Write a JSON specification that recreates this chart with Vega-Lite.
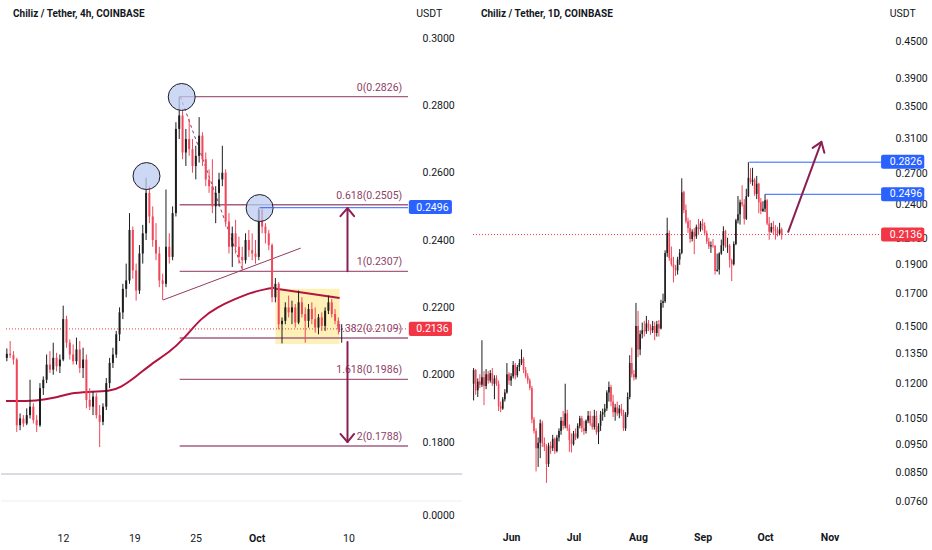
{
  "$schema": "https://vega.github.io/schema/vega-lite/v6.json",
  "padding": 0,
  "background": "#ffffff",
  "spacing": 4,
  "hconcat": [
    {
      "spacing": 0,
      "vconcat": [
        {
          "width": 412,
          "height": 473,
          "layer": [
            {
              "data": {"values": [{"t": "2022-10-03 00", "t2": "2022-10-09 11", "p": 0.2255, "p2": 0.2091}], "format": {"parse": {"t": "date:'%Y-%m-%d %H'", "t2": "date:'%Y-%m-%d %H'"}}},
              "mark": {"type": "rect", "color": "#fdf1b8"},
              "encoding": {
                "x": {"field": "t", "type": "temporal", "scale": {"domain": [{"year": 2022, "month": 9, "date": 5, "hours": 22}, {"year": 2022, "month": 10, "date": 16, "hours": 8}]}, "axis": null},
                "x2": {"field": "t2"},
                "y": {"field": "p", "type": "quantitative", "title": null, "scale": {"domain": [0.1708, 0.3113], "zero": false, "nice": false},
                  "axis": {"orient": "right", "values": [0.18, 0.19, 0.2, 0.21, 0.22, 0.23, 0.24, 0.25, 0.26, 0.27, 0.28, 0.29, 0.3], "format": ".4f", "labelAlign": "left", "labelPadding": 9, "minExtent": 50, "maxExtent": 50, "labelOverlap": false, "title": null}},
                "y2": {"field": "p2"}
              }
            },
            {
              "data": {"values": [{"t": "2022-09-05 22", "t2": "2022-10-16 08", "p": 0.2136}], "format": {"parse": {"t": "date:'%Y-%m-%d %H'", "t2": "date:'%Y-%m-%d %H'"}}},
              "mark": {"type": "rule", "color": "#f23645", "strokeDash": [1, 2], "strokeWidth": 1},
              "encoding": {
                "x": {"field": "t", "type": "temporal", "axis": null},
                "x2": {"field": "t2"},
                "y": {"field": "p", "type": "quantitative", "title": null}
              }
            },
            {
              "data": {"values": [
                {"t": "2022-09-23 09", "t2": "2022-10-16 08", "tl": "2022-10-15 18", "p": 0.2826, "lab": "0(0.2826)"},
                {"t": "2022-09-23 09", "t2": "2022-10-16 08", "tl": "2022-10-15 18", "p": 0.2505, "lab": "0.618(0.2505)"},
                {"t": "2022-09-23 09", "t2": "2022-10-16 08", "tl": "2022-10-15 18", "p": 0.2307, "lab": "1(0.2307)"},
                {"t": "2022-09-23 09", "t2": "2022-10-16 08", "tl": "2022-10-15 18", "p": 0.2109, "lab": "1.382(0.2109)"},
                {"t": "2022-09-23 09", "t2": "2022-10-16 08", "tl": "2022-10-15 18", "p": 0.1986, "lab": "1.618(0.1986)"},
                {"t": "2022-09-23 09", "t2": "2022-10-16 08", "tl": "2022-10-15 18", "p": 0.1788, "lab": "2(0.1788)"}
              ], "format": {"parse": {"t": "date:'%Y-%m-%d %H'", "t2": "date:'%Y-%m-%d %H'", "tl": "date:'%Y-%m-%d %H'"}}},
              "layer": [
                {
                  "mark": {"type": "rule", "color": "#a65f80", "strokeWidth": 1.4},
                  "encoding": {
                    "x": {"field": "t", "type": "temporal", "axis": null},
                    "x2": {"field": "t2"},
                    "y": {"field": "p", "type": "quantitative", "title": null}
                  }
                },
                {
                  "mark": {"type": "text", "align": "right", "baseline": "middle", "dy": -9, "color": "#8c3f66", "fontSize": 10.5},
                  "encoding": {
                    "x": {"field": "tl", "type": "temporal", "axis": null},
                    "y": {"field": "p", "type": "quantitative", "title": null},
                    "text": {"field": "lab"}
                  }
                }
              ]
            },
            {
              "data": {"values": [
                {"t": "2022-09-05 22", "p": 0.1922}, {"t": "2022-09-09 04", "p": 0.1922}, {"t": "2022-09-10 20", "p": 0.1931},
                {"t": "2022-09-12 12", "p": 0.1946}, {"t": "2022-09-14 01", "p": 0.1949}, {"t": "2022-09-16 10", "p": 0.1951},
                {"t": "2022-09-17 09", "p": 0.1961}, {"t": "2022-09-18 23", "p": 0.1993}, {"t": "2022-09-20 15", "p": 0.2035},
                {"t": "2022-09-22 07", "p": 0.2065}, {"t": "2022-09-23 21", "p": 0.2109}, {"t": "2022-09-25 13", "p": 0.2169},
                {"t": "2022-09-27 05", "p": 0.2201}, {"t": "2022-09-28 18", "p": 0.2222}, {"t": "2022-09-30 10", "p": 0.2243},
                {"t": "2022-10-02 02", "p": 0.2255}, {"t": "2022-10-02 21", "p": 0.2258}
              ], "format": {"parse": {"t": "date:'%Y-%m-%d %H'"}}},
              "mark": {"type": "line", "color": "#b3143f", "strokeWidth": 2, "interpolate": "basis"},
              "encoding": {
                "x": {"field": "t", "type": "temporal", "axis": null},
                "y": {"field": "p", "type": "quantitative", "title": null}
              }
            },
            {
              "data": {"values": [{"t": "2022-10-03 02", "p": 0.2255}, {"t": "2022-10-09 11", "p": 0.2228}], "format": {"parse": {"t": "date:'%Y-%m-%d %H'"}}},
              "mark": {"type": "line", "color": "#b3143f", "strokeWidth": 2},
              "encoding": {
                "x": {"field": "t", "type": "temporal", "axis": null},
                "y": {"field": "p", "type": "quantitative", "title": null}
              }
            },
            {
              "data": {"values": [{"t": "2022-09-21 17", "p": 0.2222}, {"t": "2022-10-05 13", "p": 0.2376}], "format": {"parse": {"t": "date:'%Y-%m-%d %H'"}}},
              "mark": {"type": "line", "color": "#8e3d63", "strokeWidth": 1},
              "encoding": {
                "x": {"field": "t", "type": "temporal", "axis": null},
                "y": {"field": "p", "type": "quantitative", "title": null}
              }
            },
            {
              "data": {"values": [{"t": "2022-09-23 11", "p": 0.2826}, {"t": "2022-09-29 18", "p": 0.2307}], "format": {"parse": {"t": "date:'%Y-%m-%d %H'"}}},
              "mark": {"type": "line", "color": "#8e3d63", "strokeWidth": 1, "strokeDash": [3, 3]},
              "encoding": {
                "x": {"field": "t", "type": "temporal", "axis": null},
                "y": {"field": "p", "type": "quantitative", "title": null}
              }
            },
            {
              "data": {"values": [
                {"t": "2022-09-06 00", "o": 0.2050, "h": 0.2078, "l": 0.2040, "c": 0.2062},
                {"t": "2022-09-06 08", "o": 0.2062, "h": 0.2100, "l": 0.2050, "c": 0.2058},
                {"t": "2022-09-06 16", "o": 0.2058, "h": 0.2070, "l": 0.2030, "c": 0.2045},
                {"t": "2022-09-07 00", "o": 0.2045, "h": 0.2050, "l": 0.1830, "c": 0.1850},
                {"t": "2022-09-07 08", "o": 0.1850, "h": 0.1885, "l": 0.1835, "c": 0.1870},
                {"t": "2022-09-07 16", "o": 0.1870, "h": 0.1880, "l": 0.1845, "c": 0.1855},
                {"t": "2022-09-08 00", "o": 0.1855, "h": 0.1900, "l": 0.1850, "c": 0.1880},
                {"t": "2022-09-08 08", "o": 0.1880, "h": 0.1985, "l": 0.1870, "c": 0.1905},
                {"t": "2022-09-08 16", "o": 0.1905, "h": 0.1915, "l": 0.1855, "c": 0.1865},
                {"t": "2022-09-09 00", "o": 0.1865, "h": 0.1880, "l": 0.1830, "c": 0.1850},
                {"t": "2022-09-09 08", "o": 0.1850, "h": 0.1975, "l": 0.1845, "c": 0.1960},
                {"t": "2022-09-09 16", "o": 0.1960, "h": 0.1995, "l": 0.1940, "c": 0.1985},
                {"t": "2022-09-10 00", "o": 0.1985, "h": 0.2060, "l": 0.1975, "c": 0.2030},
                {"t": "2022-09-10 08", "o": 0.2030, "h": 0.2070, "l": 0.2005, "c": 0.2015},
                {"t": "2022-09-10 16", "o": 0.2015, "h": 0.2095, "l": 0.2000, "c": 0.2050},
                {"t": "2022-09-11 00", "o": 0.2050, "h": 0.2065, "l": 0.2010, "c": 0.2025},
                {"t": "2022-09-11 08", "o": 0.2025, "h": 0.2060, "l": 0.2005, "c": 0.2045},
                {"t": "2022-09-11 16", "o": 0.2045, "h": 0.2205, "l": 0.2040, "c": 0.2165},
                {"t": "2022-09-12 00", "o": 0.2165, "h": 0.2175, "l": 0.2080, "c": 0.2095},
                {"t": "2022-09-12 08", "o": 0.2095, "h": 0.2105, "l": 0.2045, "c": 0.2060},
                {"t": "2022-09-12 16", "o": 0.2060, "h": 0.2090, "l": 0.2030, "c": 0.2040},
                {"t": "2022-09-13 00", "o": 0.2040, "h": 0.2110, "l": 0.2030, "c": 0.2075},
                {"t": "2022-09-13 08", "o": 0.2075, "h": 0.2100, "l": 0.2005, "c": 0.2020},
                {"t": "2022-09-13 16", "o": 0.2020, "h": 0.2080, "l": 0.1990, "c": 0.2045},
                {"t": "2022-09-14 00", "o": 0.2045, "h": 0.2060, "l": 0.1900, "c": 0.1925},
                {"t": "2022-09-14 08", "o": 0.1925, "h": 0.1960, "l": 0.1895, "c": 0.1905},
                {"t": "2022-09-14 16", "o": 0.1905, "h": 0.1950, "l": 0.1880, "c": 0.1935},
                {"t": "2022-09-15 00", "o": 0.1935, "h": 0.1945, "l": 0.1870, "c": 0.1880},
                {"t": "2022-09-15 08", "o": 0.1880, "h": 0.1910, "l": 0.1785, "c": 0.1860},
                {"t": "2022-09-15 16", "o": 0.1860, "h": 0.1915, "l": 0.1850, "c": 0.1905},
                {"t": "2022-09-16 00", "o": 0.1905, "h": 0.1990, "l": 0.1895, "c": 0.1975},
                {"t": "2022-09-16 08", "o": 0.1975, "h": 0.2050, "l": 0.1960, "c": 0.2035},
                {"t": "2022-09-16 16", "o": 0.2035, "h": 0.2080, "l": 0.2020, "c": 0.2060},
                {"t": "2022-09-17 00", "o": 0.2060, "h": 0.2130, "l": 0.2050, "c": 0.2120},
                {"t": "2022-09-17 08", "o": 0.2120, "h": 0.2200, "l": 0.2100, "c": 0.2185},
                {"t": "2022-09-17 16", "o": 0.2185, "h": 0.2270, "l": 0.2165, "c": 0.2255},
                {"t": "2022-09-18 00", "o": 0.2255, "h": 0.2330, "l": 0.2230, "c": 0.2280},
                {"t": "2022-09-18 08", "o": 0.2280, "h": 0.2480, "l": 0.2270, "c": 0.2430},
                {"t": "2022-09-18 16", "o": 0.2430, "h": 0.2440, "l": 0.2285, "c": 0.2310},
                {"t": "2022-09-19 00", "o": 0.2310, "h": 0.2330, "l": 0.2220, "c": 0.2250},
                {"t": "2022-09-19 08", "o": 0.2250, "h": 0.2385, "l": 0.2240, "c": 0.2360},
                {"t": "2022-09-19 16", "o": 0.2360, "h": 0.2445, "l": 0.2330, "c": 0.2420},
                {"t": "2022-09-20 00", "o": 0.2420, "h": 0.2585, "l": 0.2400, "c": 0.2540},
                {"t": "2022-09-20 08", "o": 0.2540, "h": 0.2560, "l": 0.2450, "c": 0.2470},
                {"t": "2022-09-20 16", "o": 0.2470, "h": 0.2500, "l": 0.2380, "c": 0.2400},
                {"t": "2022-09-21 00", "o": 0.2400, "h": 0.2450, "l": 0.2340, "c": 0.2360},
                {"t": "2022-09-21 08", "o": 0.2360, "h": 0.2380, "l": 0.2260, "c": 0.2280},
                {"t": "2022-09-21 16", "o": 0.2280, "h": 0.2300, "l": 0.2222, "c": 0.2270},
                {"t": "2022-09-22 00", "o": 0.2270, "h": 0.2550, "l": 0.2260, "c": 0.2380},
                {"t": "2022-09-22 08", "o": 0.2380, "h": 0.2420, "l": 0.2330, "c": 0.2350},
                {"t": "2022-09-22 16", "o": 0.2350, "h": 0.2500, "l": 0.2340, "c": 0.2480},
                {"t": "2022-09-23 00", "o": 0.2480, "h": 0.2750, "l": 0.2470, "c": 0.2730},
                {"t": "2022-09-23 08", "o": 0.2730, "h": 0.2826, "l": 0.2700, "c": 0.2770},
                {"t": "2022-09-23 16", "o": 0.2770, "h": 0.2790, "l": 0.2640, "c": 0.2660},
                {"t": "2022-09-24 00", "o": 0.2660, "h": 0.2730, "l": 0.2620, "c": 0.2700},
                {"t": "2022-09-24 08", "o": 0.2700, "h": 0.2760, "l": 0.2650, "c": 0.2670},
                {"t": "2022-09-24 16", "o": 0.2670, "h": 0.2700, "l": 0.2600, "c": 0.2620},
                {"t": "2022-09-25 00", "o": 0.2620, "h": 0.2680, "l": 0.2580, "c": 0.2650},
                {"t": "2022-09-25 08", "o": 0.2650, "h": 0.2765, "l": 0.2630, "c": 0.2710},
                {"t": "2022-09-25 16", "o": 0.2710, "h": 0.2720, "l": 0.2620, "c": 0.2640},
                {"t": "2022-09-26 00", "o": 0.2640, "h": 0.2660, "l": 0.2560, "c": 0.2580},
                {"t": "2022-09-26 08", "o": 0.2580, "h": 0.2610, "l": 0.2540, "c": 0.2560},
                {"t": "2022-09-26 16", "o": 0.2560, "h": 0.2640, "l": 0.2480, "c": 0.2500},
                {"t": "2022-09-27 00", "o": 0.2500, "h": 0.2560, "l": 0.2450, "c": 0.2540},
                {"t": "2022-09-27 08", "o": 0.2540, "h": 0.2600, "l": 0.2500, "c": 0.2580},
                {"t": "2022-09-27 16", "o": 0.2580, "h": 0.2680, "l": 0.2560, "c": 0.2600},
                {"t": "2022-09-28 00", "o": 0.2600, "h": 0.2610, "l": 0.2440, "c": 0.2455},
                {"t": "2022-09-28 08", "o": 0.2455, "h": 0.2480, "l": 0.2360, "c": 0.2380},
                {"t": "2022-09-28 16", "o": 0.2380, "h": 0.2440, "l": 0.2320, "c": 0.2420},
                {"t": "2022-09-29 00", "o": 0.2420, "h": 0.2460, "l": 0.2360, "c": 0.2380},
                {"t": "2022-09-29 08", "o": 0.2380, "h": 0.2410, "l": 0.2330, "c": 0.2350},
                {"t": "2022-09-29 16", "o": 0.2350, "h": 0.2380, "l": 0.2311, "c": 0.2340},
                {"t": "2022-09-30 00", "o": 0.2340, "h": 0.2420, "l": 0.2330, "c": 0.2400},
                {"t": "2022-09-30 08", "o": 0.2400, "h": 0.2430, "l": 0.2350, "c": 0.2370},
                {"t": "2022-09-30 16", "o": 0.2370, "h": 0.2420, "l": 0.2340, "c": 0.2360},
                {"t": "2022-10-01 00", "o": 0.2360, "h": 0.2400, "l": 0.2330, "c": 0.2350},
                {"t": "2022-10-01 08", "o": 0.2350, "h": 0.2496, "l": 0.2340, "c": 0.2490},
                {"t": "2022-10-01 16", "o": 0.2490, "h": 0.2495, "l": 0.2420, "c": 0.2440},
                {"t": "2022-10-02 00", "o": 0.2440, "h": 0.2450, "l": 0.2390, "c": 0.2420},
                {"t": "2022-10-02 08", "o": 0.2420, "h": 0.2430, "l": 0.2370, "c": 0.2385},
                {"t": "2022-10-02 16", "o": 0.2385, "h": 0.2390, "l": 0.2215, "c": 0.2230},
                {"t": "2022-10-03 00", "o": 0.2230, "h": 0.2287, "l": 0.2215, "c": 0.2270},
                {"t": "2022-10-03 08", "o": 0.2270, "h": 0.2275, "l": 0.2135, "c": 0.2150},
                {"t": "2022-10-03 16", "o": 0.2150, "h": 0.2170, "l": 0.2093, "c": 0.2160},
                {"t": "2022-10-04 00", "o": 0.2160, "h": 0.2215, "l": 0.2150, "c": 0.2200},
                {"t": "2022-10-04 08", "o": 0.2200, "h": 0.2235, "l": 0.2170, "c": 0.2185},
                {"t": "2022-10-04 16", "o": 0.2185, "h": 0.2220, "l": 0.2150, "c": 0.2200},
                {"t": "2022-10-05 00", "o": 0.2200, "h": 0.2210, "l": 0.2140, "c": 0.2155},
                {"t": "2022-10-05 08", "o": 0.2155, "h": 0.2250, "l": 0.2150, "c": 0.2215},
                {"t": "2022-10-05 16", "o": 0.2215, "h": 0.2230, "l": 0.2170, "c": 0.2180},
                {"t": "2022-10-06 00", "o": 0.2180, "h": 0.2200, "l": 0.2095, "c": 0.2160},
                {"t": "2022-10-06 08", "o": 0.2160, "h": 0.2210, "l": 0.2140, "c": 0.2195},
                {"t": "2022-10-06 16", "o": 0.2195, "h": 0.2215, "l": 0.2150, "c": 0.2165},
                {"t": "2022-10-07 00", "o": 0.2165, "h": 0.2200, "l": 0.2125, "c": 0.2140},
                {"t": "2022-10-07 08", "o": 0.2140, "h": 0.2180, "l": 0.2120, "c": 0.2170},
                {"t": "2022-10-07 16", "o": 0.2170, "h": 0.2185, "l": 0.2130, "c": 0.2145},
                {"t": "2022-10-08 00", "o": 0.2145, "h": 0.2200, "l": 0.2130, "c": 0.2190},
                {"t": "2022-10-08 08", "o": 0.2190, "h": 0.2235, "l": 0.2180, "c": 0.2215},
                {"t": "2022-10-08 16", "o": 0.2215, "h": 0.2225, "l": 0.2170, "c": 0.2180},
                {"t": "2022-10-09 00", "o": 0.2180, "h": 0.2195, "l": 0.2150, "c": 0.2160},
                {"t": "2022-10-09 08", "o": 0.2160, "h": 0.2170, "l": 0.2120, "c": 0.2135},
                {"t": "2022-10-09 16", "o": 0.2135, "h": 0.2150, "l": 0.2095, "c": 0.2136}
              ], "format": {"parse": {"t": "date:'%Y-%m-%d %H'"}}},
              "layer": [
                {
                  "mark": {"type": "rule", "strokeWidth": 1},
                  "encoding": {
                    "x": {"field": "t", "type": "temporal", "axis": null},
                    "y": {"field": "l", "type": "quantitative", "title": null},
                    "y2": {"field": "h"},
                    "color": {"condition": {"test": "datum.c >= datum.o", "value": "#1e1e1e"}, "value": "#f0475a"}
                  }
                },
                {
                  "mark": {"type": "bar", "size": 2},
                  "encoding": {
                    "x": {"field": "t", "type": "temporal", "axis": null},
                    "y": {"field": "o", "type": "quantitative", "title": null},
                    "y2": {"field": "c"},
                    "color": {"condition": {"test": "datum.c >= datum.o", "value": "#1e1e1e"}, "value": "#f0475a"}
                  }
                }
              ]
            },
            {
              "data": {"values": [{"t": "2022-09-20 01", "p": 0.2590}, {"t": "2022-09-23 14", "p": 0.2825}, {"t": "2022-10-01 10", "p": 0.2495}], "format": {"parse": {"t": "date:'%Y-%m-%d %H'"}}},
              "mark": {"type": "point", "shape": "circle", "filled": true, "size": 729, "fill": "#bccbf2", "fillOpacity": 0.75, "stroke": "#1a1d29", "strokeWidth": 1, "opacity": 1},
              "encoding": {
                "x": {"field": "t", "type": "temporal", "axis": null},
                "y": {"field": "p", "type": "quantitative", "title": null}
              }
            },
            {
              "data": {"values": [{"t": "2022-10-01 10", "t2": "2022-10-16 08", "p": 0.2496}], "format": {"parse": {"t": "date:'%Y-%m-%d %H'", "t2": "date:'%Y-%m-%d %H'"}}},
              "mark": {"type": "rule", "color": "#2962ff", "strokeWidth": 1},
              "encoding": {
                "x": {"field": "t", "type": "temporal", "axis": null},
                "x2": {"field": "t2"},
                "y": {"field": "p", "type": "quantitative", "title": null}
              }
            },
            {
              "data": {"values": [
                {"g": "u", "i": 0, "t": "2022-10-10 06", "p": 0.2307},
                {"g": "u", "i": 1, "t": "2022-10-10 06", "p": 0.2495},
                {"g": "uh", "i": 0, "t": "2022-10-09 13", "p": 0.2471},
                {"g": "uh", "i": 1, "t": "2022-10-10 06", "p": 0.2495},
                {"g": "uh", "i": 2, "t": "2022-10-10 22", "p": 0.2471},
                {"g": "d", "i": 0, "t": "2022-10-10 06", "p": 0.2097},
                {"g": "d", "i": 1, "t": "2022-10-10 06", "p": 0.1800},
                {"g": "dh", "i": 0, "t": "2022-10-09 13", "p": 0.1824},
                {"g": "dh", "i": 1, "t": "2022-10-10 06", "p": 0.1800},
                {"g": "dh", "i": 2, "t": "2022-10-10 22", "p": 0.1824}
              ], "format": {"parse": {"t": "date:'%Y-%m-%d %H'"}}},
              "mark": {"type": "line", "color": "#8b1f52", "strokeWidth": 2, "strokeCap": "round", "strokeJoin": "round"},
              "encoding": {
                "x": {"field": "t", "type": "temporal", "axis": null},
                "y": {"field": "p", "type": "quantitative", "title": null},
                "detail": {"field": "g"},
                "order": {"field": "i"}
              }
            },
            {
              "data": {"values": [
                {"t": "2022-10-16 10", "t2": "2022-10-20 18", "tl": "2022-10-17 04", "p": 0.2496, "p1": 0.2477, "p2": 0.2519, "lab": "0.2496", "k": "blue"},
                {"t": "2022-10-16 10", "t2": "2022-10-20 18", "tl": "2022-10-17 04", "p": 0.2136, "p1": 0.2115, "p2": 0.2157, "lab": "0.2136", "k": "red"}
              ], "format": {"parse": {"t": "date:'%Y-%m-%d %H'", "t2": "date:'%Y-%m-%d %H'", "tl": "date:'%Y-%m-%d %H'"}}},
              "layer": [
                {
                  "mark": {"type": "rect", "cornerRadius": 2},
                  "encoding": {
                    "x": {"field": "t", "type": "temporal", "axis": null},
                    "x2": {"field": "t2"},
                    "y": {"field": "p1", "type": "quantitative", "title": null},
                    "y2": {"field": "p2"},
                    "color": {"condition": {"test": "datum.k == 'red'", "value": "#f23645"}, "value": "#2962ff"}
                  }
                },
                {
                  "mark": {"type": "text", "align": "left", "baseline": "middle", "color": "#ffffff", "fontSize": 10.5},
                  "encoding": {
                    "x": {"field": "tl", "type": "temporal", "axis": null},
                    "y": {"field": "p", "type": "quantitative", "title": null},
                    "text": {"field": "lab"}
                  }
                }
              ]
            },
            {
              "data": {"values": [{"t": "2022-09-06 15", "p": 0.3071, "s": "Chiliz / Tether, 4h, COINBASE"}], "format": {"parse": {"t": "date:'%Y-%m-%d %H'"}}},
              "mark": {"type": "text", "align": "left", "baseline": "middle", "fontWeight": "bold", "fontSize": 10, "color": "#131722"},
              "encoding": {
                "x": {"field": "t", "type": "temporal", "axis": null},
                "y": {"field": "p", "type": "quantitative", "title": null},
                "text": {"field": "s"}
              }
            },
            {
              "data": {"values": [{"t": "2022-10-17 04", "p": 0.3071, "s": "USDT"}], "format": {"parse": {"t": "date:'%Y-%m-%d %H'"}}},
              "mark": {"type": "text", "align": "left", "baseline": "middle", "fontSize": 10.5, "color": "#131722"},
              "encoding": {
                "x": {"field": "t", "type": "temporal", "axis": null},
                "y": {"field": "p", "type": "quantitative", "title": null},
                "text": {"field": "s"}
              }
            }
          ]
        },
        {
          "width": 412,
          "height": 55,
          "data": {"values": [
            {"t": "2022-09-05 22", "t2": "2022-10-21 04", "v": 0.9, "k": "a"},
            {"t": "2022-09-05 22", "t2": "2022-10-21 04", "v": 0.31, "k": "b"}
          ], "format": {"parse": {"t": "date:'%Y-%m-%d %H'", "t2": "date:'%Y-%m-%d %H'"}}},
          "mark": {"type": "rule"},
          "encoding": {
            "x": {"field": "t", "type": "temporal", "scale": {"domain": [{"year": 2022, "month": 9, "date": 5, "hours": 22}, {"year": 2022, "month": 10, "date": 16, "hours": 8}]},
              "axis": {"values": [{"year": 2022, "month": 9, "date": 12}, {"year": 2022, "month": 9, "date": 19}, {"year": 2022, "month": 9, "date": 25}, {"year": 2022, "month": 10, "date": 1}, {"year": 2022, "month": 10, "date": 10}],
                "labelExpr": "date(datum.value) == 1 ? timeFormat(datum.value, '%b') : timeFormat(datum.value, '%d')",
                "labelFontWeight": {"condition": {"test": "date(datum.value) == 1", "value": "bold"}, "value": "normal"},
                "labelPadding": 4, "labelFlush": false, "title": null}},
            "x2": {"field": "t2"},
            "y": {"field": "v", "type": "quantitative", "scale": {"domain": [-0.3, 0.9], "zero": false, "nice": false},
              "axis": {"orient": "right", "values": [0], "format": ".4f", "labelAlign": "left", "labelPadding": 9, "minExtent": 50, "maxExtent": 50, "title": null}},
            "color": {"condition": {"test": "datum.k == 'a'", "value": "#d8dbe2"}, "value": "#eceef2"},
            "strokeWidth": {"condition": {"test": "datum.k == 'a'", "value": 2}, "value": 1}
          }
        }
      ]
    },
    {
      "width": 418,
      "height": 528,
      "layer": [
        {
          "data": {"values": [{"t": "2022-05-13 17", "t2": "2022-11-25 17", "p": 0.2136}], "format": {"parse": {"t": "date:'%Y-%m-%d %H'", "t2": "date:'%Y-%m-%d %H'"}}},
          "mark": {"type": "rule", "color": "#f23645", "strokeDash": [1, 2], "strokeWidth": 1},
          "encoding": {
            "x": {"field": "t", "type": "temporal", "title": null, "scale": {"domain": [{"year": 2022, "month": 5, "date": 13, "hours": 17}, {"year": 2022, "month": 11, "date": 25, "hours": 17}]},
              "axis": {"values": [{"year": 2022, "month": 6, "date": 1}, {"year": 2022, "month": 7, "date": 1}, {"year": 2022, "month": 8, "date": 1}, {"year": 2022, "month": 9, "date": 1}, {"year": 2022, "month": 10, "date": 1}, {"year": 2022, "month": 11, "date": 1}],
                "format": "%b", "labelFontWeight": "bold", "labelPadding": 4, "labelFlush": false, "title": null}},
            "x2": {"field": "t2"},
            "y": {"field": "p", "type": "quantitative", "title": null, "scale": {"type": "log", "domain": [0.0687, 0.529], "nice": false},
              "axis": {"orient": "right", "values": [0.076, 0.085, 0.095, 0.105, 0.12, 0.135, 0.15, 0.17, 0.19, 0.21, 0.24, 0.27, 0.31, 0.35, 0.39, 0.45], "format": ".4f", "labelAlign": "left", "labelPadding": 9, "minExtent": 46, "maxExtent": 46, "labelOverlap": false, "title": null}}
          }
        },
        {
          "data": {"values": [{"t": "2022-09-23 10", "t2": "2022-11-25 17", "p": 0.2826}, {"t": "2022-10-01 00", "t2": "2022-11-25 17", "p": 0.2496}], "format": {"parse": {"t": "date:'%Y-%m-%d %H'", "t2": "date:'%Y-%m-%d %H'"}}},
          "mark": {"type": "rule", "color": "#2962ff", "strokeWidth": 1},
          "encoding": {
            "x": {"field": "t", "type": "temporal", "title": null},
            "x2": {"field": "t2"},
            "y": {"field": "p", "type": "quantitative", "title": null}
          }
        },
        {
          "data": {"values": [
            {"d": "2022-05-14", "o": 0.1200, "h": 0.1275, "l": 0.1125, "c": 0.1265},
            {"d": "2022-05-15", "o": 0.1265, "h": 0.1270, "l": 0.1150, "c": 0.1170},
            {"d": "2022-05-16", "o": 0.1170, "h": 0.1225, "l": 0.1140, "c": 0.1210},
            {"d": "2022-05-17", "o": 0.1210, "h": 0.1245, "l": 0.1180, "c": 0.1195},
            {"d": "2022-05-18", "o": 0.1195, "h": 0.1420, "l": 0.1185, "c": 0.1230},
            {"d": "2022-05-19", "o": 0.1230, "h": 0.1260, "l": 0.1105, "c": 0.1190},
            {"d": "2022-05-20", "o": 0.1190, "h": 0.1270, "l": 0.1175, "c": 0.1245},
            {"d": "2022-05-21", "o": 0.1245, "h": 0.1260, "l": 0.1200, "c": 0.1215},
            {"d": "2022-05-22", "o": 0.1215, "h": 0.1265, "l": 0.1205, "c": 0.1250},
            {"d": "2022-05-23", "o": 0.1250, "h": 0.1275, "l": 0.1190, "c": 0.1200},
            {"d": "2022-05-24", "o": 0.1200, "h": 0.1240, "l": 0.1130, "c": 0.1225},
            {"d": "2022-05-25", "o": 0.1225, "h": 0.1240, "l": 0.1190, "c": 0.1200},
            {"d": "2022-05-26", "o": 0.1200, "h": 0.1215, "l": 0.1080, "c": 0.1100},
            {"d": "2022-05-27", "o": 0.1100, "h": 0.1120, "l": 0.1075, "c": 0.1090},
            {"d": "2022-05-28", "o": 0.1090, "h": 0.1140, "l": 0.1085, "c": 0.1130},
            {"d": "2022-05-29", "o": 0.1130, "h": 0.1175, "l": 0.1120, "c": 0.1160},
            {"d": "2022-05-30", "o": 0.1160, "h": 0.1300, "l": 0.1155, "c": 0.1245},
            {"d": "2022-05-31", "o": 0.1245, "h": 0.1255, "l": 0.1195, "c": 0.1215},
            {"d": "2022-06-01", "o": 0.1215, "h": 0.1250, "l": 0.1190, "c": 0.1235},
            {"d": "2022-06-02", "o": 0.1235, "h": 0.1310, "l": 0.1225, "c": 0.1290},
            {"d": "2022-06-03", "o": 0.1290, "h": 0.1300, "l": 0.1220, "c": 0.1240},
            {"d": "2022-06-04", "o": 0.1240, "h": 0.1290, "l": 0.1230, "c": 0.1280},
            {"d": "2022-06-05", "o": 0.1280, "h": 0.1320, "l": 0.1260, "c": 0.1300},
            {"d": "2022-06-06", "o": 0.1300, "h": 0.1370, "l": 0.1290, "c": 0.1320},
            {"d": "2022-06-07", "o": 0.1320, "h": 0.1330, "l": 0.1250, "c": 0.1265},
            {"d": "2022-06-08", "o": 0.1265, "h": 0.1280, "l": 0.1225, "c": 0.1235},
            {"d": "2022-06-09", "o": 0.1235, "h": 0.1250, "l": 0.1200, "c": 0.1215},
            {"d": "2022-06-10", "o": 0.1215, "h": 0.1225, "l": 0.1170, "c": 0.1180},
            {"d": "2022-06-11", "o": 0.1180, "h": 0.1190, "l": 0.1030, "c": 0.1045},
            {"d": "2022-06-12", "o": 0.1045, "h": 0.1055, "l": 0.0990, "c": 0.1000},
            {"d": "2022-06-13", "o": 0.1000, "h": 0.1010, "l": 0.0855, "c": 0.0935},
            {"d": "2022-06-14", "o": 0.0935, "h": 0.0975, "l": 0.0870, "c": 0.0955},
            {"d": "2022-06-15", "o": 0.0955, "h": 0.1045, "l": 0.0900, "c": 0.1030},
            {"d": "2022-06-16", "o": 0.1030, "h": 0.1040, "l": 0.0940, "c": 0.0955},
            {"d": "2022-06-17", "o": 0.0955, "h": 0.0975, "l": 0.0925, "c": 0.0940},
            {"d": "2022-06-18", "o": 0.0940, "h": 0.0950, "l": 0.0818, "c": 0.0880},
            {"d": "2022-06-19", "o": 0.0880, "h": 0.0955, "l": 0.0870, "c": 0.0945},
            {"d": "2022-06-20", "o": 0.0945, "h": 0.0960, "l": 0.0915, "c": 0.0935},
            {"d": "2022-06-21", "o": 0.0935, "h": 0.0985, "l": 0.0925, "c": 0.0970},
            {"d": "2022-06-22", "o": 0.0970, "h": 0.0975, "l": 0.0915, "c": 0.0925},
            {"d": "2022-06-23", "o": 0.0925, "h": 0.0985, "l": 0.0920, "c": 0.0975},
            {"d": "2022-06-24", "o": 0.0975, "h": 0.1010, "l": 0.0960, "c": 0.1000},
            {"d": "2022-06-25", "o": 0.1000, "h": 0.1055, "l": 0.0985, "c": 0.1040},
            {"d": "2022-06-26", "o": 0.1040, "h": 0.1080, "l": 0.1005, "c": 0.1020},
            {"d": "2022-06-27", "o": 0.1020, "h": 0.1200, "l": 0.1010, "c": 0.1070},
            {"d": "2022-06-28", "o": 0.1070, "h": 0.1085, "l": 0.1000, "c": 0.1010},
            {"d": "2022-06-29", "o": 0.1010, "h": 0.1025, "l": 0.0922, "c": 0.0965},
            {"d": "2022-06-30", "o": 0.0965, "h": 0.0990, "l": 0.0920, "c": 0.0950},
            {"d": "2022-07-01", "o": 0.0950, "h": 0.1000, "l": 0.0945, "c": 0.0990},
            {"d": "2022-07-02", "o": 0.0990, "h": 0.1010, "l": 0.0965, "c": 0.0975},
            {"d": "2022-07-03", "o": 0.0975, "h": 0.1030, "l": 0.0970, "c": 0.1020},
            {"d": "2022-07-04", "o": 0.1020, "h": 0.1060, "l": 0.1010, "c": 0.1050},
            {"d": "2022-07-05", "o": 0.1050, "h": 0.1060, "l": 0.0995, "c": 0.1010},
            {"d": "2022-07-06", "o": 0.1010, "h": 0.1040, "l": 0.0985, "c": 0.1000},
            {"d": "2022-07-07", "o": 0.1000, "h": 0.1045, "l": 0.0990, "c": 0.1040},
            {"d": "2022-07-08", "o": 0.1040, "h": 0.1080, "l": 0.1030, "c": 0.1060},
            {"d": "2022-07-09", "o": 0.1060, "h": 0.1080, "l": 0.1020, "c": 0.1030},
            {"d": "2022-07-10", "o": 0.1030, "h": 0.1060, "l": 0.1005, "c": 0.1015},
            {"d": "2022-07-11", "o": 0.1015, "h": 0.1085, "l": 0.1005, "c": 0.1060},
            {"d": "2022-07-12", "o": 0.1060, "h": 0.1080, "l": 0.0985, "c": 0.0995},
            {"d": "2022-07-13", "o": 0.0995, "h": 0.1030, "l": 0.0950, "c": 0.1020},
            {"d": "2022-07-14", "o": 0.1020, "h": 0.1080, "l": 0.1000, "c": 0.1065},
            {"d": "2022-07-15", "o": 0.1065, "h": 0.1090, "l": 0.1040, "c": 0.1075},
            {"d": "2022-07-16", "o": 0.1075, "h": 0.1110, "l": 0.1055, "c": 0.1090},
            {"d": "2022-07-17", "o": 0.1090, "h": 0.1170, "l": 0.1080, "c": 0.1160},
            {"d": "2022-07-18", "o": 0.1160, "h": 0.1210, "l": 0.1120, "c": 0.1185},
            {"d": "2022-07-19", "o": 0.1185, "h": 0.1195, "l": 0.1100, "c": 0.1120},
            {"d": "2022-07-20", "o": 0.1120, "h": 0.1150, "l": 0.1055, "c": 0.1075},
            {"d": "2022-07-21", "o": 0.1075, "h": 0.1110, "l": 0.1040, "c": 0.1095},
            {"d": "2022-07-22", "o": 0.1095, "h": 0.1120, "l": 0.1060, "c": 0.1070},
            {"d": "2022-07-23", "o": 0.1070, "h": 0.1105, "l": 0.1050, "c": 0.1090},
            {"d": "2022-07-24", "o": 0.1090, "h": 0.1110, "l": 0.1060, "c": 0.1075},
            {"d": "2022-07-25", "o": 0.1075, "h": 0.1085, "l": 0.1000, "c": 0.1010},
            {"d": "2022-07-26", "o": 0.1010, "h": 0.1075, "l": 0.1000, "c": 0.1065},
            {"d": "2022-07-27", "o": 0.1065, "h": 0.1160, "l": 0.1055, "c": 0.1140},
            {"d": "2022-07-28", "o": 0.1140, "h": 0.1340, "l": 0.1130, "c": 0.1300},
            {"d": "2022-07-29", "o": 0.1300, "h": 0.1380, "l": 0.1230, "c": 0.1245},
            {"d": "2022-07-30", "o": 0.1245, "h": 0.1265, "l": 0.1215, "c": 0.1230},
            {"d": "2022-07-31", "o": 0.1230, "h": 0.1640, "l": 0.1220, "c": 0.1500},
            {"d": "2022-08-01", "o": 0.1500, "h": 0.1590, "l": 0.1330, "c": 0.1370},
            {"d": "2022-08-02", "o": 0.1370, "h": 0.1475, "l": 0.1340, "c": 0.1455},
            {"d": "2022-08-03", "o": 0.1455, "h": 0.1520, "l": 0.1430, "c": 0.1475},
            {"d": "2022-08-04", "o": 0.1475, "h": 0.1530, "l": 0.1440, "c": 0.1470},
            {"d": "2022-08-05", "o": 0.1470, "h": 0.1560, "l": 0.1455, "c": 0.1515},
            {"d": "2022-08-06", "o": 0.1515, "h": 0.1535, "l": 0.1470, "c": 0.1490},
            {"d": "2022-08-07", "o": 0.1490, "h": 0.1510, "l": 0.1450, "c": 0.1475},
            {"d": "2022-08-08", "o": 0.1475, "h": 0.1530, "l": 0.1460, "c": 0.1500},
            {"d": "2022-08-09", "o": 0.1500, "h": 0.1525, "l": 0.1420, "c": 0.1460},
            {"d": "2022-08-10", "o": 0.1460, "h": 0.1530, "l": 0.1440, "c": 0.1510},
            {"d": "2022-08-11", "o": 0.1510, "h": 0.1535, "l": 0.1440, "c": 0.1485},
            {"d": "2022-08-12", "o": 0.1485, "h": 0.1660, "l": 0.1480, "c": 0.1640},
            {"d": "2022-08-13", "o": 0.1640, "h": 0.1700, "l": 0.1610, "c": 0.1650},
            {"d": "2022-08-14", "o": 0.1650, "h": 0.2010, "l": 0.1640, "c": 0.1990},
            {"d": "2022-08-15", "o": 0.1990, "h": 0.2280, "l": 0.1960, "c": 0.2150},
            {"d": "2022-08-16", "o": 0.2150, "h": 0.2170, "l": 0.1930, "c": 0.1950},
            {"d": "2022-08-17", "o": 0.1950, "h": 0.2040, "l": 0.1890, "c": 0.1905},
            {"d": "2022-08-18", "o": 0.1905, "h": 0.1960, "l": 0.1775, "c": 0.1880},
            {"d": "2022-08-19", "o": 0.1880, "h": 0.1900, "l": 0.1820, "c": 0.1860},
            {"d": "2022-08-20", "o": 0.1860, "h": 0.1960, "l": 0.1830, "c": 0.1940},
            {"d": "2022-08-21", "o": 0.1940, "h": 0.2020, "l": 0.1900, "c": 0.1990},
            {"d": "2022-08-22", "o": 0.1990, "h": 0.2655, "l": 0.1980, "c": 0.2515},
            {"d": "2022-08-23", "o": 0.2515, "h": 0.2530, "l": 0.2320, "c": 0.2350},
            {"d": "2022-08-24", "o": 0.2350, "h": 0.2400, "l": 0.2230, "c": 0.2250},
            {"d": "2022-08-25", "o": 0.2250, "h": 0.2280, "l": 0.2150, "c": 0.2190},
            {"d": "2022-08-26", "o": 0.2190, "h": 0.2260, "l": 0.2070, "c": 0.2100},
            {"d": "2022-08-27", "o": 0.2100, "h": 0.2180, "l": 0.2080, "c": 0.2160},
            {"d": "2022-08-28", "o": 0.2160, "h": 0.2190, "l": 0.1980, "c": 0.2120},
            {"d": "2022-08-29", "o": 0.2120, "h": 0.2220, "l": 0.2100, "c": 0.2200},
            {"d": "2022-08-30", "o": 0.2200, "h": 0.2270, "l": 0.2140, "c": 0.2180},
            {"d": "2022-08-31", "o": 0.2180, "h": 0.2250, "l": 0.2160, "c": 0.2230},
            {"d": "2022-09-01", "o": 0.2230, "h": 0.2270, "l": 0.2170, "c": 0.2210},
            {"d": "2022-09-02", "o": 0.2210, "h": 0.2240, "l": 0.2130, "c": 0.2150},
            {"d": "2022-09-03", "o": 0.2150, "h": 0.2170, "l": 0.2060, "c": 0.2080},
            {"d": "2022-09-04", "o": 0.2080, "h": 0.2110, "l": 0.2020, "c": 0.2040},
            {"d": "2022-09-05", "o": 0.2040, "h": 0.2080, "l": 0.1990, "c": 0.2050},
            {"d": "2022-09-06", "o": 0.2050, "h": 0.2100, "l": 0.2030, "c": 0.2045},
            {"d": "2022-09-07", "o": 0.2045, "h": 0.2050, "l": 0.1830, "c": 0.1855},
            {"d": "2022-09-08", "o": 0.1855, "h": 0.1985, "l": 0.1850, "c": 0.1865},
            {"d": "2022-09-09", "o": 0.1865, "h": 0.1995, "l": 0.1830, "c": 0.1985},
            {"d": "2022-09-10", "o": 0.1985, "h": 0.2095, "l": 0.1975, "c": 0.2050},
            {"d": "2022-09-11", "o": 0.2050, "h": 0.2205, "l": 0.2005, "c": 0.2165},
            {"d": "2022-09-12", "o": 0.2165, "h": 0.2175, "l": 0.2030, "c": 0.2040},
            {"d": "2022-09-13", "o": 0.2040, "h": 0.2110, "l": 0.1990, "c": 0.2045},
            {"d": "2022-09-14", "o": 0.2045, "h": 0.2060, "l": 0.1880, "c": 0.1935},
            {"d": "2022-09-15", "o": 0.1935, "h": 0.1945, "l": 0.1785, "c": 0.1905},
            {"d": "2022-09-16", "o": 0.1905, "h": 0.2080, "l": 0.1895, "c": 0.2060},
            {"d": "2022-09-17", "o": 0.2060, "h": 0.2270, "l": 0.2050, "c": 0.2255},
            {"d": "2022-09-18", "o": 0.2255, "h": 0.2480, "l": 0.2230, "c": 0.2310},
            {"d": "2022-09-19", "o": 0.2310, "h": 0.2445, "l": 0.2220, "c": 0.2420},
            {"d": "2022-09-20", "o": 0.2420, "h": 0.2585, "l": 0.2380, "c": 0.2400},
            {"d": "2022-09-21", "o": 0.2400, "h": 0.2450, "l": 0.2220, "c": 0.2270},
            {"d": "2022-09-22", "o": 0.2270, "h": 0.2550, "l": 0.2260, "c": 0.2480},
            {"d": "2022-09-23", "o": 0.2480, "h": 0.2826, "l": 0.2470, "c": 0.2660},
            {"d": "2022-09-24", "o": 0.2660, "h": 0.2760, "l": 0.2600, "c": 0.2620},
            {"d": "2022-09-25", "o": 0.2620, "h": 0.2765, "l": 0.2580, "c": 0.2640},
            {"d": "2022-09-26", "o": 0.2640, "h": 0.2660, "l": 0.2480, "c": 0.2500},
            {"d": "2022-09-27", "o": 0.2500, "h": 0.2680, "l": 0.2450, "c": 0.2600},
            {"d": "2022-09-28", "o": 0.2600, "h": 0.2610, "l": 0.2320, "c": 0.2420},
            {"d": "2022-09-29", "o": 0.2420, "h": 0.2460, "l": 0.2311, "c": 0.2340},
            {"d": "2022-09-30", "o": 0.2340, "h": 0.2430, "l": 0.2330, "c": 0.2360},
            {"d": "2022-10-01", "o": 0.2360, "h": 0.2496, "l": 0.2330, "c": 0.2440},
            {"d": "2022-10-02", "o": 0.2440, "h": 0.2450, "l": 0.2215, "c": 0.2230},
            {"d": "2022-10-03", "o": 0.2230, "h": 0.2287, "l": 0.2093, "c": 0.2160},
            {"d": "2022-10-04", "o": 0.2160, "h": 0.2235, "l": 0.2150, "c": 0.2200},
            {"d": "2022-10-05", "o": 0.2200, "h": 0.2250, "l": 0.2140, "c": 0.2180},
            {"d": "2022-10-06", "o": 0.2180, "h": 0.2215, "l": 0.2095, "c": 0.2165},
            {"d": "2022-10-07", "o": 0.2165, "h": 0.2200, "l": 0.2120, "c": 0.2145},
            {"d": "2022-10-08", "o": 0.2145, "h": 0.2235, "l": 0.2130, "c": 0.2180},
            {"d": "2022-10-09", "o": 0.2180, "h": 0.2195, "l": 0.2095, "c": 0.2136}
          ], "format": {"parse": {"d": "date:'%Y-%m-%d'"}}},
          "layer": [
            {
              "mark": {"type": "rule", "strokeWidth": 1},
              "encoding": {
                "x": {"field": "d", "type": "temporal", "title": null},
                "y": {"field": "l", "type": "quantitative", "title": null},
                "y2": {"field": "h"},
                "color": {"condition": {"test": "datum.c >= datum.o", "value": "#1e1e1e"}, "value": "#f0475a"}
              }
            },
            {
              "mark": {"type": "bar", "size": 1.6},
              "encoding": {
                "x": {"field": "d", "type": "temporal", "title": null},
                "y": {"field": "o", "type": "quantitative", "title": null},
                "y2": {"field": "c"},
                "color": {"condition": {"test": "datum.c >= datum.o", "value": "#1e1e1e"}, "value": "#f0475a"}
              }
            }
          ]
        },
        {
          "data": {"values": [
            {"g": "a", "i": 0, "t": "2022-10-12 03", "p": 0.2159},
            {"g": "a", "i": 1, "t": "2022-10-28 02", "p": 0.3057},
            {"g": "ah", "i": 0, "t": "2022-10-23 21", "p": 0.2987},
            {"g": "ah", "i": 1, "t": "2022-10-28 02", "p": 0.3057},
            {"g": "ah", "i": 2, "t": "2022-10-29 12", "p": 0.2930}
          ], "format": {"parse": {"t": "date:'%Y-%m-%d %H'"}}},
          "mark": {"type": "line", "color": "#8b1f52", "strokeWidth": 2, "strokeCap": "round", "strokeJoin": "round"},
          "encoding": {
            "x": {"field": "t", "type": "temporal", "title": null},
            "y": {"field": "p", "type": "quantitative", "title": null},
            "detail": {"field": "g"},
            "order": {"field": "i"}
          }
        },
        {
          "data": {"values": [
            {"t": "2022-11-25 18", "t2": "2022-12-16 12", "tl": "2022-11-29 22", "p": 0.2826, "p1": 0.2754, "p2": 0.2907, "lab": "0.2826", "k": "blue"},
            {"t": "2022-11-25 18", "t2": "2022-12-16 12", "tl": "2022-11-29 22", "p": 0.2496, "p1": 0.2429, "p2": 0.2564, "lab": "0.2496", "k": "blue"},
            {"t": "2022-11-25 18", "t2": "2022-12-16 12", "tl": "2022-11-29 22", "p": 0.2136, "p1": 0.2079, "p2": 0.2195, "lab": "0.2136", "k": "red"}
          ], "format": {"parse": {"t": "date:'%Y-%m-%d %H'", "t2": "date:'%Y-%m-%d %H'", "tl": "date:'%Y-%m-%d %H'"}}},
          "layer": [
            {
              "mark": {"type": "rect", "cornerRadius": 2},
              "encoding": {
                "x": {"field": "t", "type": "temporal", "title": null},
                "x2": {"field": "t2"},
                "y": {"field": "p1", "type": "quantitative", "title": null},
                "y2": {"field": "p2"},
                "color": {"condition": {"test": "datum.k == 'red'", "value": "#f23645"}, "value": "#2962ff"}
              }
            },
            {
              "mark": {"type": "text", "align": "left", "baseline": "middle", "color": "#ffffff", "fontSize": 10.5},
              "encoding": {
                "x": {"field": "tl", "type": "temporal", "title": null},
                "y": {"field": "p", "type": "quantitative", "title": null},
                "text": {"field": "lab"}
              }
            }
          ]
        },
        {
          "data": {"values": [{"t": "2022-05-17 12", "p": 0.5015, "s": "Chiliz / Tether, 1D, COINBASE"}], "format": {"parse": {"t": "date:'%Y-%m-%d %H'"}}},
          "mark": {"type": "text", "align": "left", "baseline": "middle", "fontWeight": "bold", "fontSize": 10, "color": "#131722"},
          "encoding": {
            "x": {"field": "t", "type": "temporal", "title": null},
            "y": {"field": "p", "type": "quantitative", "title": null},
            "text": {"field": "s"}
          }
        },
        {
          "data": {"values": [{"t": "2022-11-29 22", "p": 0.5015, "s": "USDT"}], "format": {"parse": {"t": "date:'%Y-%m-%d %H'"}}},
          "mark": {"type": "text", "align": "left", "baseline": "middle", "fontSize": 10.5, "color": "#131722"},
          "encoding": {
            "x": {"field": "t", "type": "temporal", "title": null},
            "y": {"field": "p", "type": "quantitative", "title": null},
            "text": {"field": "s"}
          }
        }
      ]
    }
  ],
  "config": {
    "view": {"stroke": null},
    "axis": {"labelFont": "Roboto", "labelFontSize": 10.5, "labelColor": "#131722", "domain": false, "ticks": false, "grid": false},
    "text": {"font": "Roboto", "fontSize": 10.5, "color": "#131722"}
  }
}
